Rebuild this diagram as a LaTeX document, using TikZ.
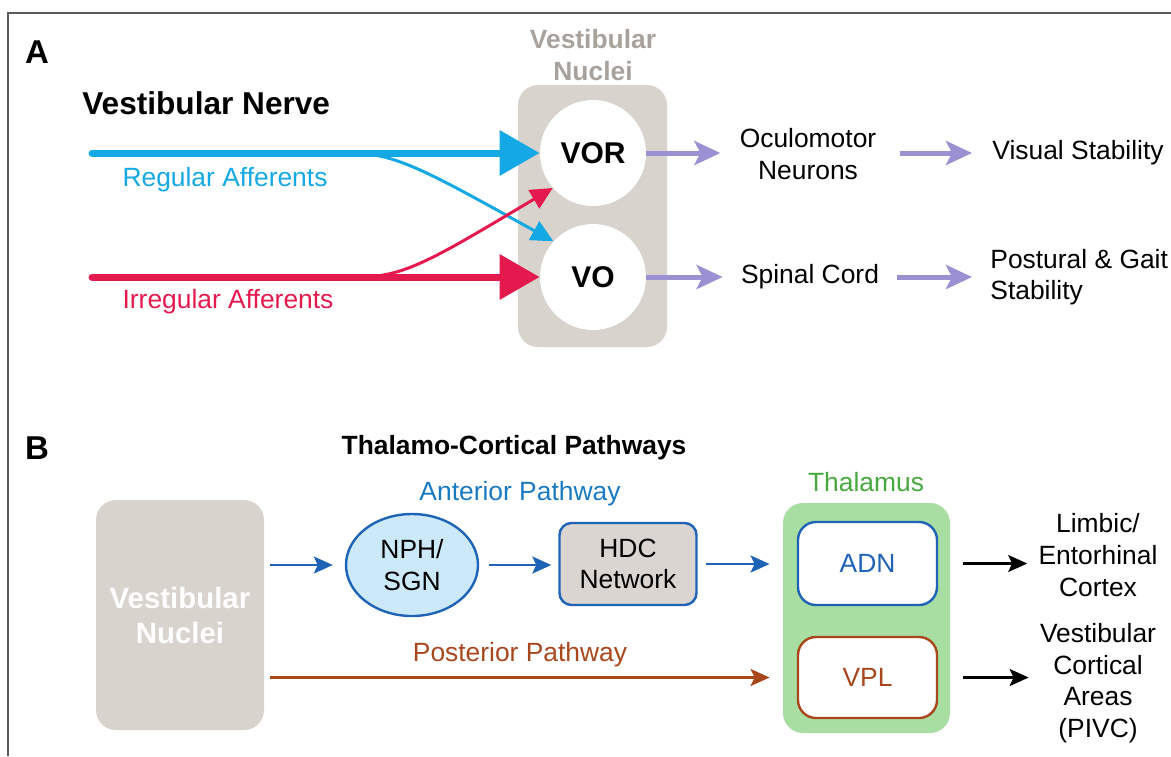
\documentclass[tikz,border=0pt]{standalone}
\usepackage{fontspec}
\setmainfont{Liberation Sans}
\usepackage{tikz}
\usetikzlibrary{arrows.meta}
\usetikzlibrary{shapes.geometric}
\definecolor{regblue}{HTML}{14A8E4}
\definecolor{irred}{HTML}{E41A4E}
\definecolor{nucgray}{HTML}{D9D3CE}
\definecolor{nuctext}{HTML}{A9A29C}
\definecolor{outpurple}{HTML}{9B91D2}
\definecolor{antblue}{HTML}{1F63B6}
\definecolor{npfill}{HTML}{CCE9FA}
\definecolor{hdcgray}{HTML}{DAD5D1}
\definecolor{thalgreen}{HTML}{A8DEA2}
\definecolor{thaltext}{HTML}{46A83F}
\definecolor{postbrown}{HTML}{A8471C}
\definecolor{framegray}{HTML}{5A5A5A}
\newcommand\bodyfont{\fontsize{13.2}{15.8}\selectfont}
\newcommand\headfont{\fontsize{15.8}{19}\selectfont\bfseries}
\newcommand\cellfont{\fontsize{15}{18}\selectfont\bfseries}
\tikzset{>=latex}

\begin{document}
\begin{tikzpicture}[x=0.5pt, y=-0.5pt, font=\bodyfont,
    txt/.style={inner sep=0pt, align=center},
    nucbox/.style={fill=nucgray, rounded corners=10pt, inner sep=0pt},
    cell/.style={circle, fill=white, minimum size=53pt, inner sep=0pt, font=\cellfont},
    fiber/.style={line width=3.5pt, line cap=round, -{Triangle[length=20pt,width=22pt]}},
    branch/.style={line width=1.5pt, -{Triangle[length=11pt,width=10.5pt]}},
    outarr/.style={line width=2.5pt, -{Stealth[length=13pt,width=12pt,inset=3pt]}},
    flow/.style={line width=1.3pt, -{Stealth[length=9.5pt,width=8.5pt,inset=2pt]}},
    unit/.style={line width=1.2pt, rounded corners=9pt, inner sep=0pt, align=center}]
      \useasboundingbox (0,0) rectangle (1171,756);
      \draw[framegray, line width=1pt] (1171,13) -- (8,13) -- (8,756);

      % panel A
      \node[txt, font=\fontsize{16.5}{19}\selectfont\bfseries] (panA) at (37,52) {A};
      \node[txt, font=\headfont, anchor=west] (nerve) at (82,103) {Vestibular Nerve};
      \node[nucbox, minimum width=74.5pt, minimum height=131pt] (nucA) at (592.5,216) {};
      \node[txt, nuctext, font=\bodyfont\bfseries] (nuclab) at (593,55) {Vestibular\\Nuclei};
      \node[cell] (vor) at (593,153) {VOR};
      \node[cell] (vo) at (593,277) {VO};

      \coordinate (regstart) at (92,153);
      \coordinate (regsplit) at (350,153);
      \coordinate (irrstart) at (92,277);
      \coordinate (irrsplit) at (360,277);
      \draw[branch, regblue] (regsplit) .. controls (395,153) and (425,170) .. (vo.138);
      \draw[branch, irred] (irrsplit) .. controls (405,277) and (435,258) .. (vor.221);
      \draw[fiber, regblue] (regstart) -- (vor.west);
      \draw[fiber, irred] (irrstart) -- (vo.west);
      \node[txt, regblue] (reglab) at (225,180) {Regular Afferents};
      \node[txt, irred] (irrlab) at (228,302) {Irregular Afferents};

      \node[txt] (oculo) at (808,154) {Oculomotor\\Neurons};
      \node[txt, anchor=west] (visual) at (992,153) {Visual Stability};
      \node[txt] (spinal) at (810,277) {Spinal Cord};
      \node[txt, anchor=west, align=left] (gait) at (990,277) {Postural \& Gait\\Stability};
      \draw[outarr, outpurple, shorten >=9.5pt] (vor.east) -- (vor.east -| oculo.west);
      \draw[outarr, outpurple, shorten <=11.5pt, shorten >=10pt] (oculo.east |- visual.west) -- (visual.west);
      \draw[outarr, outpurple, shorten >=9pt] (vo.east) -- (vo.east -| spinal.west);
      \draw[outarr, outpurple, shorten <=9pt, shorten >=9pt] (spinal.east) -- (spinal.east -| gait.west);

      % panel B
      \node[txt, font=\fontsize{16.5}{19}\selectfont\bfseries] (panB) at (37,448) {B};
      \node[txt, font=\bodyfont\bfseries] (thctitle) at (514,448) {Thalamo-Cortical Pathways};
      \node[nucbox, minimum width=84pt, minimum height=115pt, text=white, align=center,
            font=\fontsize{14.7}{17.5}\selectfont\bfseries] (nucB) at (180,615) {Vestibular\\Nuclei};
      \node[ellipse, draw=antblue, fill=npfill, line width=1.2pt, minimum width=66pt,
            minimum height=51pt, inner sep=0pt, align=center] (nph) at (412,565) {NPH/\\SGN};
      \node[unit, draw=antblue, fill=hdcgray, rounded corners=6pt, minimum width=68.5pt,
            minimum height=41pt] (hdc) at (628,564) {HDC\\Network};
      \node[nucbox, fill=thalgreen, minimum width=83.5pt, minimum height=115pt] (thal) at (866.5,618) {};
      \node[unit, draw=antblue, fill=white, text=antblue, minimum width=69.5pt,
            minimum height=41.5pt] (adn) at (867.5,563.5) {ADN};
      \node[unit, draw=postbrown, fill=white, text=postbrown, minimum width=69.5pt,
            minimum height=40.5pt] (vpl) at (867.5,677.5) {VPL};
      \node[txt, thaltext] (thallab) at (866,482) {Thalamus};
      \node[txt, antblue!85!cyan] (antlab) at (520,494) {Anterior Pathway};
      \node[txt, postbrown] (postlab) at (520,655) {Posterior Pathway};
      \node[txt] (limbic) at (1098,555) {Limbic/\\Entorhinal\\Cortex};
      \node[txt] (vcortex) at (1098,683) {Vestibular\\Cortical\\Areas\\(PIVC)};

      \draw[flow, antblue, shorten <=3pt, shorten >=6pt] (nucB.east |- nph.west) -- (nph.west);
      \draw[flow, antblue, shorten <=5pt, shorten >=3.5pt] (nph.east) -- (nph.east -| hdc.west);
      \draw[flow, antblue, shorten <=4pt, shorten >=6.5pt] (hdc.east) -- (hdc.east -| thal.west);
      \draw[flow, postbrown, shorten <=3pt, shorten >=6.5pt] (nucB.east |- vpl) -- (thal.west |- vpl);
      \draw[flow, black, shorten <=6.5pt, shorten >=5.5pt] (thal.east |- adn) -- (limbic.west |- adn);
      \draw[flow, black, shorten <=6.5pt, shorten >=5.5pt] (thal.east |- vpl) -- (vcortex.west |- vpl);
\end{tikzpicture}
\end{document}
